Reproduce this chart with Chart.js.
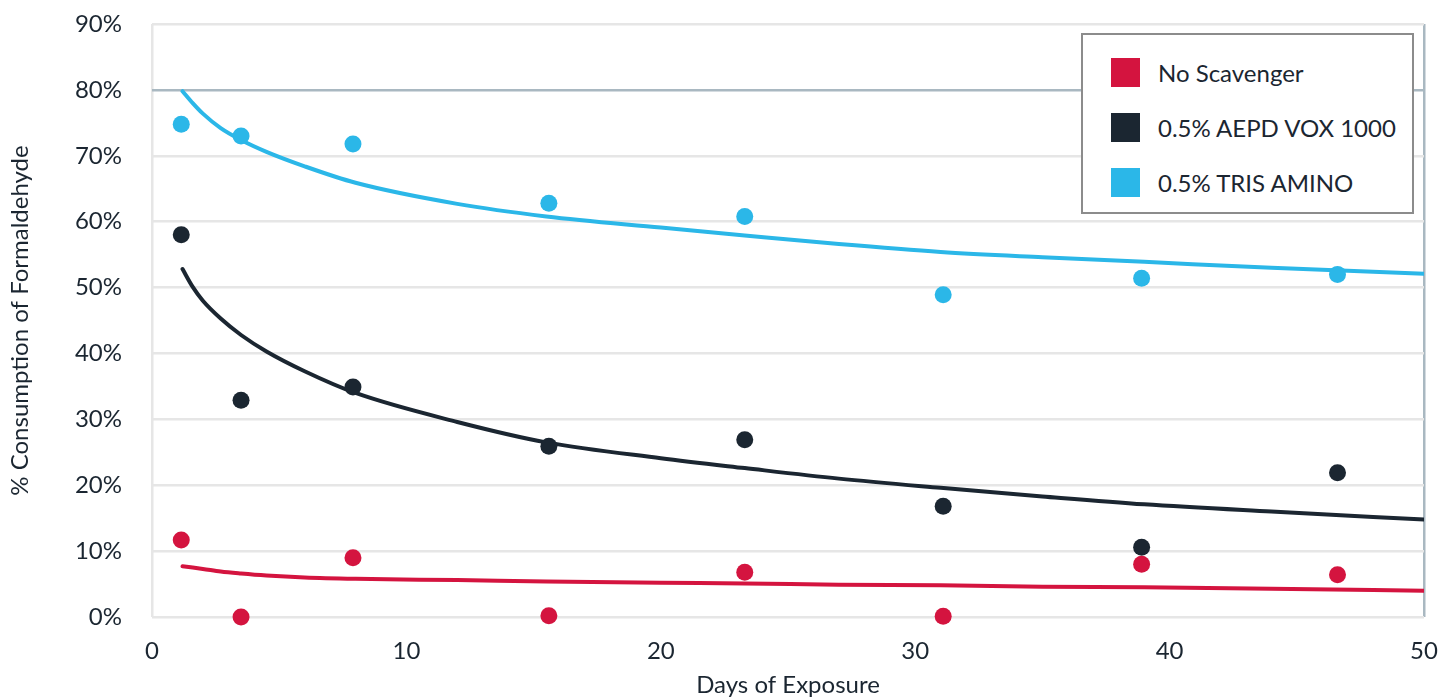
<!DOCTYPE html>
<html>
<head>
    <title>Formaldehyde consumption</title>
    <meta charset="UTF-8">
    <style>
        html, body { margin: 0; padding: 0; background: #ffffff; }
        .chart-container { position: relative; width: 1449px; height: 700px; }
        .legend {
            position: absolute;
            left: 1081px; top: 33px;
            width: 333px; height: 181px;
            border: 2px solid #8c8c8c;
            background: #ffffff;
            font-family: Lato, "Open Sans", sans-serif;
            font-size: 24px;
            color: #1b2631;
            box-sizing: border-box;
        }
        .legend-item { position: absolute; left: 28px; height: 30px; display: flex; align-items: center; }
        .legend-item span.box { width: 29px; height: 29px; margin-right: 18px; display: inline-block; }
    </style>
    <script src="https://cdn.jsdelivr.net/npm/chart.js"></script>
</head>
<body>
<div class="chart-container">
    <canvas id="myChart" width="1449" height="700"></canvas>
    <div class="legend">
        <div class="legend-item" style="top: 22px;"><span class="box" style="background:#d4143f"></span>No Scavenger</div>
        <div class="legend-item" style="top: 77px;"><span class="box" style="background:#1b2631"></span>0.5% AEPD VOX 1000</div>
        <div class="legend-item" style="top: 132px;"><span class="box" style="background:#2bb7e8"></span>0.5% TRIS AMINO</div>
    </div>
</div>
<script>
    // measured points (days, %)
    const days = [1.15, 3.5, 7.9, 15.6, 23.3, 31.1, 38.9, 46.6];
    const noScavenger = [11.7, 0.0, 9.0, 0.2, 6.8, 0.1, 8.0, 6.4];
    const aepdVox = [58.0, 32.9, 34.9, 25.9, 26.9, 16.8, 10.6, 21.9];
    const trisAmino = [74.8, 73.0, 71.8, 62.8, 60.8, 48.9, 51.4, 52.0];

    // trend lines
    const trendDays = [1.2, 1.6, 2, 2.7, 3.5, 4.5, 6, 8, 12, 15.5, 20, 23.3, 27, 31, 35, 39, 44, 50];
    const noScavengerTrend = [7.7, 7.5, 7.3, 6.9, 6.6, 6.3, 6.0, 5.8, 5.6, 5.4, 5.2, 5.1, 4.9, 4.8, 4.6, 4.5, 4.3, 4.0];
    const aepdVoxTrend = [52.8, 50.1, 48.0, 45.3, 42.8, 40.3, 37.3, 34.0, 29.6, 26.5, 24.1, 22.6, 21.0, 19.6, 18.3, 17.1, 16.0, 14.8];
    const trisAminoTrend = [79.8, 78.0, 76.4, 74.2, 72.4, 70.6, 68.4, 65.9, 62.7, 60.8, 59.1, 57.9, 56.6, 55.4, 54.6, 53.9, 53.0, 52.1];

    const yTicks = [0, 10, 20, 30, 40, 50, 60, 70, 80, 90];
    const xTicks = [0, 10, 20, 30, 40, 50];

    const red = '#d4143f';
    const navy = '#1b2631';
    const sky = '#2bb7e8';

    const toPoints = (xs, ys) => xs.map((x, i) => ({ x: x, y: ys[i] }));

    function scatterSet(label, data, color) {
        return {
            type: 'scatter',
            label: label,
            data: toPoints(days, data),
            backgroundColor: color,
            borderColor: color,
            pointRadius: 8.5,
            pointBorderWidth: 0,
            clip: false,
            order: 1
        };
    }

    function trendSet(label, data, color) {
        return {
            type: 'line',
            label: label,
            data: toPoints(trendDays, data),
            borderColor: color,
            borderWidth: 4,
            pointRadius: 0,
            fill: false,
            cubicInterpolationMode: 'monotone',
            borderCapStyle: 'round',
            order: 2
        };
    }

    const font = { family: 'Lato, "Open Sans", sans-serif', size: 24 };

    new Chart(document.getElementById('myChart').getContext('2d'), {
        data: {
            datasets: [
                trendSet('No Scavenger trend', noScavengerTrend, red),
                trendSet('AEPD trend', aepdVoxTrend, navy),
                trendSet('TRIS trend', trisAminoTrend, sky),
                scatterSet('No Scavenger', noScavenger, red),
                scatterSet('0.5% AEPD VOX 1000', aepdVox, navy),
                scatterSet('0.5% TRIS AMINO', trisAmino, sky)
            ]
        },
        options: {
            responsive: false,
            animation: false,
            layout: { padding: { top: 24, right: 25, left: 0, bottom: 0 } },
            plugins: {
                legend: { display: false },
                tooltip: { enabled: false }
            },
            scales: {
                x: {
                    type: 'linear',
                    min: 0,
                    max: 50,
                    afterBuildTicks: axis => { axis.ticks = xTicks.map(v => ({ value: v })); },
                    afterFit: axis => {
                        axis.height = 83;
                        axis.paddingLeft = 0;
                        axis.paddingRight = 0;
                    },
                    grid: {
                        drawTicks: false,
                        lineWidth: 2.5,
                        color: ctx => ctx.tick && ctx.tick.value === 50 ? '#a9b8c1' : (ctx.tick && ctx.tick.value === 0 ? '#e6e6e6' : 'rgba(0,0,0,0)')
                    },
                    border: { display: false },
                    ticks: { font: font, color: navy, padding: 20, maxRotation: 0 },
                    title: {
                        display: true,
                        text: 'Days of Exposure',
                        font: font,
                        color: navy,
                        padding: { top: 2, bottom: 0 }
                    }
                },
                y: {
                    min: 0,
                    max: 90,
                    afterBuildTicks: axis => { axis.ticks = yTicks.map(v => ({ value: v })); },
                    afterFit: axis => {
                        axis.width = 152;
                        axis.paddingTop = 0;
                        axis.paddingBottom = 0;
                    },
                    grid: {
                        drawTicks: false,
                        lineWidth: 2.5,
                        color: ctx => ctx.tick && ctx.tick.value === 80 ? '#a9b8c1' : '#e6e6e6'
                    },
                    border: { display: false },
                    ticks: {
                        font: font,
                        color: navy,
                        padding: 30,
                        callback: v => v + '%'
                    },
                    title: {
                        display: true,
                        text: '% Consumption of Formaldehyde',
                        font: font,
                        color: navy,
                        padding: { top: 6, bottom: 0 }
                    }
                }
            }
        }
    });
</script>
</body>
</html>
